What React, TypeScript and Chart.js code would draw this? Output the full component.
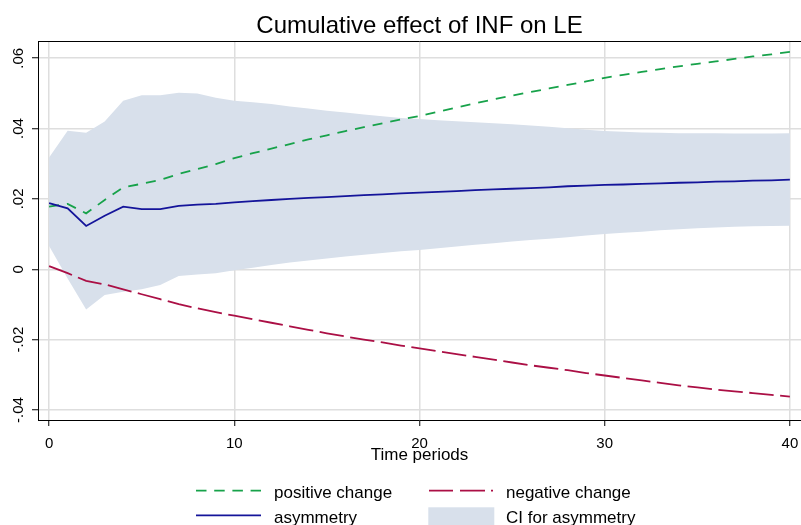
import React, { useEffect, useRef } from "react";
import { Chart, registerables } from "chart.js";

Chart.register(...registerables);

const periods = [0, 1, 2, 3, 4, 5, 6, 7, 8, 9, 10, 11, 12, 13, 14, 15, 16, 17, 18, 19, 20, 21, 22, 23, 24, 25, 26, 27, 28, 29, 30, 31, 32, 33, 34, 35, 36, 37, 38, 39, 40];

const positiveChange = [0.0178, 0.0186, 0.0159, 0.0197, 0.0233, 0.0243, 0.0254, 0.0271, 0.0285, 0.0299, 0.0316, 0.0330, 0.0343, 0.0356, 0.0369, 0.0381, 0.0393, 0.0404, 0.0415, 0.0426, 0.0436, 0.0448, 0.0460, 0.0472, 0.0483, 0.0494, 0.0504, 0.0514, 0.0524, 0.0534, 0.0544, 0.0553, 0.0561, 0.0569, 0.0577, 0.0584, 0.0591, 0.0598, 0.0605, 0.0611, 0.0618];

const negativeChange = [0.0009, -0.0011, -0.0033, -0.0043, -0.0057, -0.0071, -0.0085, -0.0099, -0.0111, -0.0122, -0.0132, -0.0142, -0.0152, -0.0162, -0.0172, -0.0182, -0.0191, -0.0200, -0.0208, -0.0217, -0.0225, -0.0233, -0.0241, -0.0249, -0.0257, -0.0265, -0.0273, -0.0280, -0.0287, -0.0295, -0.0302, -0.0309, -0.0316, -0.0323, -0.0330, -0.0336, -0.0342, -0.0347, -0.0352, -0.0357, -0.0362];

const asymmetry = [0.0188, 0.0173, 0.0123, 0.0152, 0.0178, 0.0171, 0.0171, 0.0180, 0.0184, 0.0186, 0.0190, 0.0194, 0.0197, 0.0200, 0.0203, 0.0205, 0.0208, 0.0211, 0.0213, 0.0216, 0.0218, 0.0220, 0.0222, 0.0225, 0.0227, 0.0229, 0.0231, 0.0233, 0.0236, 0.0238, 0.0240, 0.0241, 0.0243, 0.0244, 0.0246, 0.0247, 0.0249, 0.0250, 0.0252, 0.0253, 0.0255];

const ciUpper = [0.0318, 0.0394, 0.0388, 0.0420, 0.0479, 0.0495, 0.0495, 0.0502, 0.0500, 0.0488, 0.0479, 0.0475, 0.0470, 0.0463, 0.0457, 0.0451, 0.0446, 0.0440, 0.0435, 0.0430, 0.0427, 0.0424, 0.0421, 0.0418, 0.0415, 0.0412, 0.0409, 0.0405, 0.0401, 0.0397, 0.0393, 0.0391, 0.0389, 0.0388, 0.0387, 0.0387, 0.0387, 0.0386, 0.0386, 0.0386, 0.0387];

const ciLower = [0.0066, -0.0026, -0.0114, -0.0073, -0.0064, -0.0057, -0.0045, -0.0019, -0.0015, -0.0011, -0.0003, 0.0004, 0.0012, 0.0019, 0.0025, 0.0031, 0.0036, 0.0041, 0.0046, 0.0051, 0.0055, 0.0060, 0.0065, 0.0070, 0.0074, 0.0079, 0.0083, 0.0087, 0.0091, 0.0096, 0.0100, 0.0104, 0.0107, 0.0111, 0.0114, 0.0117, 0.0119, 0.0121, 0.0122, 0.0123, 0.0124];

const xTicks = [0, 10, 20, 30, 40];
const yTicks = [-0.04, -0.02, 0, 0.02, 0.04, 0.06];

const TITLE = "Cumulative effect of INF on LE";
const X_TITLE = "Time periods";
const LEGEND_LABELS = ["positive change", "negative change", "asymmetry", "CI for asymmetry"];

const GREEN = "#17a24a";
const MAROON = "#ab0f45";
const NAVY = "#14149a";
const CI_FILL = "rgb(216,224,235)";
const GRID = "#dedede";
const FONT = "'Liberation Sans', Arial, Helvetica, sans-serif";

const fmtY = (v: number) => {
  if (Math.abs(v) < 1e-9) return "0";
  const s = Math.abs(v).toFixed(2).replace(/^0/, "");
  return (v < 0 ? "-" : "") + s;
};

const pts = (arr: number[]) => arr.map((v, i) => ({ x: periods[i], y: v }));

const framePlugin = {
  id: "frameAndLegend",
  afterDraw(chart: any) {
    const { ctx, chartArea } = chart;
    ctx.save();
    // top frame line
    ctx.strokeStyle = "#000";
    ctx.lineWidth = 1;
    ctx.beginPath();
    ctx.moveTo(chartArea.left, Math.round(chartArea.top) + 0.5);
    ctx.lineTo(chartArea.right, Math.round(chartArea.top) + 0.5);
    ctx.stroke();

    // legend
    const row1 = 490.7;
    const row2 = 515.3;
    const c1x0 = 196, c1x1 = 261, c1t = 274;
    const c2x0 = 429, c2x1 = 494, c2t = 506;
    ctx.lineWidth = 1.8;
    ctx.lineCap = "butt";
    ctx.strokeStyle = GREEN;
    ctx.setLineDash([10.5, 7.7]);
    ctx.beginPath();
    ctx.moveTo(c1x0, row1);
    ctx.lineTo(c1x1, row1);
    ctx.stroke();
    ctx.strokeStyle = MAROON;
    ctx.setLineDash([24, 7, 25, 6, 2, 10]);
    ctx.beginPath();
    ctx.moveTo(c2x0, row1);
    ctx.lineTo(c2x1, row1);
    ctx.stroke();
    ctx.strokeStyle = NAVY;
    ctx.setLineDash([]);
    ctx.beginPath();
    ctx.moveTo(c1x0, row2);
    ctx.lineTo(c1x1, row2);
    ctx.stroke();
    ctx.fillStyle = CI_FILL;
    ctx.fillRect(428.3, 507.3, 66, 22);

    ctx.fillStyle = "#000";
    ctx.font = `17px ${FONT}`;
    ctx.textAlign = "left";
    ctx.textBaseline = "alphabetic";
    ctx.fillText(LEGEND_LABELS[0], c1t, 498.3);
    ctx.fillText(LEGEND_LABELS[1], c2t, 498.3);
    ctx.fillText(LEGEND_LABELS[2], c1t, 522.7);
    ctx.fillText(LEGEND_LABELS[3], c2t, 522.7);
    ctx.restore();
  },
};

export default function App() {
  const ref = useRef<HTMLCanvasElement | null>(null);

  useEffect(() => {
    if (!ref.current) return;
    const chart = new Chart(ref.current, {
      type: "line",
      data: {
        datasets: [
          {
            label: "CI upper",
            data: pts(ciUpper),
            borderWidth: 0,
            borderColor: CI_FILL,
            backgroundColor: CI_FILL,
            pointRadius: 0,
            fill: "+1",
            order: 5,
          },
          {
            label: "CI lower",
            data: pts(ciLower),
            borderWidth: 0,
            borderColor: CI_FILL,
            backgroundColor: CI_FILL,
            pointRadius: 0,
            fill: false,
            order: 5,
          },
          {
            label: LEGEND_LABELS[0],
            data: pts(positiveChange),
            borderColor: GREEN,
            borderWidth: 1.8,
            borderDash: [10, 8],
            pointRadius: 0,
            fill: false,
            order: 2,
          },
          {
            label: LEGEND_LABELS[1],
            data: pts(negativeChange),
            borderColor: MAROON,
            borderWidth: 1.8,
            borderDash: [24.5, 6.5],
            pointRadius: 0,
            fill: false,
            order: 2,
          },
          {
            label: LEGEND_LABELS[2],
            data: pts(asymmetry),
            borderColor: NAVY,
            borderWidth: 1.8,
            pointRadius: 0,
            fill: false,
            order: 1,
          },
        ],
      },
      options: {
        responsive: false,
        animation: false,
        layout: { padding: { left: 0, right: -3, top: 0, bottom: 0 } },
        plugins: {
          legend: { display: false },
          tooltip: { enabled: false },
          title: {
            display: true,
            text: TITLE,
            color: "#000",
            fullSize: false,
            font: { family: FONT, size: 24, weight: "normal" as any },
            padding: { top: 11.6, bottom: 0.6 },
          },
        },
        scales: {
          x: {
            type: "linear",
            min: -0.6,
            max: 40.6,
            afterBuildTicks: (s: any) => {
              s.ticks = xTicks.map((v) => ({ value: v }));
            },
            afterFit: (s: any) => {
              s.height = 105;
              s.paddingLeft = 0;
              s.paddingRight = 0;
            },
            grid: {
              color: GRID,
              lineWidth: 1.5,
              drawTicks: true,
              tickLength: 6,
              tickColor: "#000",
              tickWidth: 1,
            },
            border: { display: true, color: "#000", width: 1 },
            ticks: {
              color: "#000",
              font: { family: FONT, size: 15 },
              padding: 9,
              maxRotation: 0,
              minRotation: 0,
              callback: (v: any) => String(v),
            },
            title: {
              display: true,
              text: X_TITLE,
              color: "#000",
              font: { family: FONT, size: 17 },
              padding: { top: 0, bottom: 59 },
            },
          },
          y: {
            type: "linear",
            min: -0.04285,
            max: 0.0649,
            afterBuildTicks: (s: any) => {
              s.ticks = yTicks.map((v) => ({ value: v }));
            },
            afterFit: (s: any) => {
              s.width = 38;
              s.paddingTop = 0;
              s.paddingBottom = 0;
            },
            grid: {
              color: GRID,
              lineWidth: 1.5,
              drawTicks: true,
              tickLength: 6,
              tickColor: "#000",
              tickWidth: 1,
            },
            border: { display: true, color: "#000", width: 1 },
            ticks: {
              color: "#000",
              font: { family: FONT, size: 15 },
              padding: 0.5,
              minRotation: 90,
              maxRotation: 90,
              crossAlign: "center",
              callback: (v: any) => fmtY(Number(v)),
            },
          },
        },
      } as any,
      plugins: [framePlugin],
    });
    return () => chart.destroy();
  }, []);

  return (
    <div style={{ position: "absolute", left: 0, top: 0, width: 801, height: 525, background: "#fff" }}>
      <canvas ref={ref} width={801} height={525} style={{ display: "block" }} />
    </div>
  );
}
